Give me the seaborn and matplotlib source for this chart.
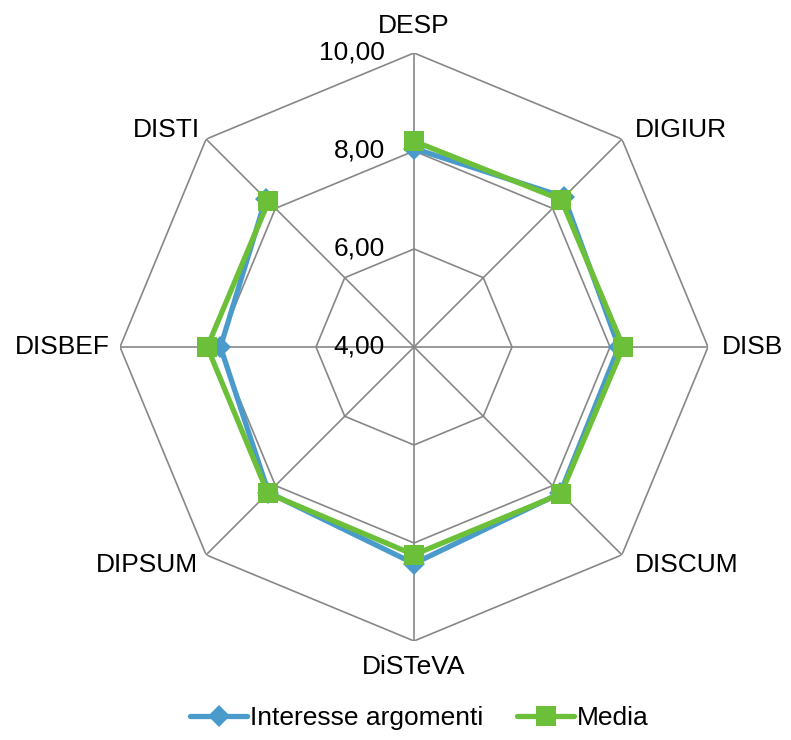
import numpy as np
import matplotlib
matplotlib.use("Agg")
import matplotlib.pyplot as plt
import seaborn as sns
from matplotlib.lines import Line2D

# categories clockwise starting from the top
categories = ["DESP", "DIGIUR", "DISB", "DISCUM", "DiSTeVA", "DIPSUM", "DISBEF", "DISTI"]
interesse = [8.05, 8.33, 8.18, 8.22, 8.42, 8.20, 7.95, 8.28]
media = [8.20, 8.25, 8.27, 8.24, 8.24, 8.22, 8.22, 8.20]
r_ticks = [4, 6, 8, 10]
r_labels = ["4,00", "6,00", "8,00", "10,00"]

BLUE = "#4a9bcb"
GREEN = "#6cbf38"
GRID = "#878787"
FS = 19

sns.set_theme(style="white")
plt.rcParams["font.family"] = ["Liberation Sans", "DejaVu Sans"]
plt.rcParams["text.color"] = "black"

fig = plt.figure(figsize=(7.91, 7.40), dpi=100)
ax = fig.add_axes([0.1517, 0.1338, 0.7434, 0.7946], projection="polar")
ax.set_theta_zero_location("N")
ax.set_theta_direction(-1)
ax.set_ylim(4, 10)
ax.grid(False)
ax.spines["polar"].set_visible(False)
ax.set_xticks([])
ax.set_yticks([])

angles = np.linspace(0, 2 * np.pi, len(categories), endpoint=False)
closed = np.append(angles, angles[0])

# octagonal grid and spokes
for r in r_ticks[1:]:
    ax.plot(closed, [r] * len(closed), color=GRID, lw=1.2, zorder=1)
for a in angles:
    ax.plot([a, a], [4, 10], color=GRID, lw=1.2, zorder=1)

# series
sns.lineplot(x=closed, y=interesse + interesse[:1], ax=ax, sort=False, color=BLUE,
             lw=3.8, marker="D", markersize=11, markeredgewidth=0, zorder=3)
sns.lineplot(x=closed, y=media + media[:1], ax=ax, sort=False, color=GREEN,
             lw=3.8, marker="s", markersize=14, markeredgewidth=0, zorder=4)

# radial labels
for r, lab in zip(r_ticks, r_labels):
    ax.annotate(lab, xy=(0, r), xytext=(-29, 0), textcoords="offset pixels",
                ha="right", va="center", fontsize=FS, color="black",
                annotation_clip=False)

# category labels
offsets = [(0, 27, "center"), (13, 9, "left"), (14, 0, "left"), (13, -10, "left"),
           (0, -26, "center"), (-8, -10, "right"), (-10, 0, "right"), (-6, 9, "right")]
for a, lab, (dx, dy, ha) in zip(angles, categories, offsets):
    ax.annotate(lab, xy=(a, 10), xytext=(dx, dy), textcoords="offset pixels",
                ha=ha, va="center", fontsize=FS, color="black",
                annotation_clip=False)

handles = [
    Line2D([], [], color=BLUE, lw=3.8, marker="D", markersize=11, markeredgewidth=0),
    Line2D([], [], color=GREEN, lw=3.8, marker="s", markersize=14, markeredgewidth=0),
]
leg = fig.legend(handles, ["Interesse argomenti", "Media"], loc="center",
                 bbox_to_anchor=(0.53, 1 - 718 / 740), ncol=2, frameon=False,
                 fontsize=FS, handlelength=2.15, handletextpad=0.1, columnspacing=1.3)
for t in leg.get_texts():
    t.set_color("black")

fig.savefig("out.png", dpi=100, facecolor="white")
